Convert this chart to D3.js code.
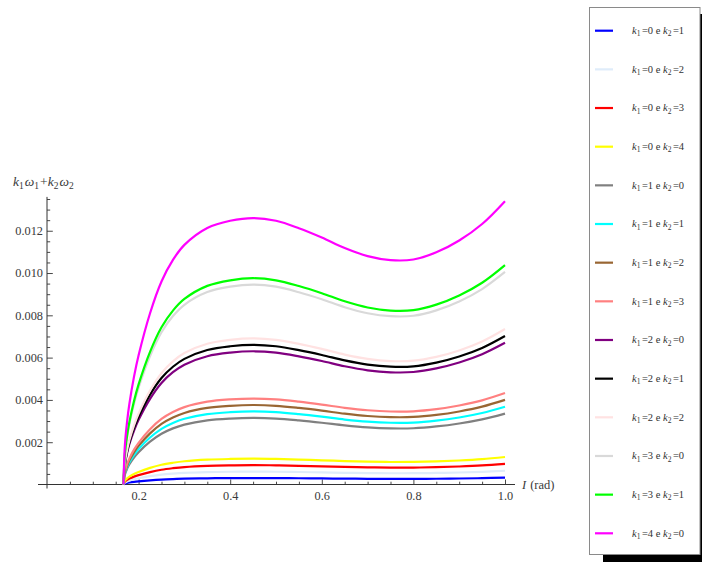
<!DOCTYPE html>
<html>
<head>
<meta charset="utf-8">
<script src="https://cdn.jsdelivr.net/npm/d3@7"></script>
<style>
  body { margin: 0; background: #fff; }
  svg { display: block; font-family: "Liberation Serif", "DejaVu Serif", serif; }
</style>
</head>
<body>
<svg id="chart" width="702" height="562"></svg>
<script>
// sample positions along I (rad)
const xValues = [0.167, 0.17, 0.175, 0.18, 0.19, 0.2, 0.225, 0.25, 0.275, 0.3, 0.35, 0.4, 0.45, 0.5, 0.55, 0.6, 0.65, 0.7, 0.75, 0.8, 0.85, 0.9, 0.95, 1.0];

// k1*w1 + k2*w2
const k0k1 = [0, 0.000045, 0.000073, 0.000093, 0.000124, 0.000148, 0.000196, 0.000233, 0.000257, 0.000275, 0.000294, 0.000302, 0.000305, 0.000302, 0.000295, 0.000286, 0.000277, 0.00027, 0.000266, 0.000267, 0.000273, 0.000284, 0.0003, 0.000325];
const k0k2 = [0, 0.00009, 0.000146, 0.000186, 0.000248, 0.000296, 0.000392, 0.000466, 0.000514, 0.00055, 0.000588, 0.000604, 0.00061, 0.000604, 0.00059, 0.000572, 0.000554, 0.00054, 0.000532, 0.000534, 0.000546, 0.000568, 0.0006, 0.00065];
const k0k3 = [0, 0.000135, 0.000219, 0.000279, 0.000372, 0.000444, 0.000588, 0.000699, 0.000771, 0.000825, 0.000882, 0.000906, 0.000915, 0.000906, 0.000885, 0.000858, 0.000831, 0.00081, 0.000798, 0.000801, 0.000819, 0.000852, 0.0009, 0.000975];
const k0k4 = [0, 0.00018, 0.000292, 0.000372, 0.000496, 0.000592, 0.000784, 0.000932, 0.001028, 0.0011, 0.001176, 0.001208, 0.00122, 0.001208, 0.00118, 0.001144, 0.001108, 0.00108, 0.001064, 0.001068, 0.001092, 0.001136, 0.0012, 0.0013];
const k1k0 = [0, 0.00046, 0.00075, 0.000958, 0.001275, 0.001528, 0.002025, 0.0024, 0.002655, 0.002833, 0.003033, 0.003118, 0.00315, 0.003118, 0.00303, 0.00292, 0.002795, 0.0027, 0.002653, 0.00266, 0.002745, 0.002885, 0.00308, 0.00335];
const k1k1 = [0, 0.000505, 0.000823, 0.001051, 0.001399, 0.001676, 0.002221, 0.002633, 0.002912, 0.003108, 0.003327, 0.00342, 0.003455, 0.00342, 0.003325, 0.003206, 0.003072, 0.00297, 0.002919, 0.002927, 0.003018, 0.003169, 0.00338, 0.003675];
const k1k2 = [0, 0.00055, 0.000896, 0.001144, 0.001523, 0.001824, 0.002417, 0.002866, 0.003169, 0.003383, 0.003621, 0.003722, 0.00376, 0.003722, 0.00362, 0.003492, 0.003349, 0.00324, 0.003185, 0.003194, 0.003291, 0.003453, 0.00368, 0.004];
const k1k3 = [0, 0.000595, 0.000969, 0.001237, 0.001647, 0.001972, 0.002613, 0.003099, 0.003426, 0.003658, 0.003915, 0.004024, 0.004065, 0.004024, 0.003915, 0.003778, 0.003626, 0.00351, 0.003451, 0.003461, 0.003564, 0.003737, 0.00398, 0.004325];
const k2k0 = [0, 0.00092, 0.0015, 0.001916, 0.00255, 0.003056, 0.00405, 0.0048, 0.00531, 0.005666, 0.006066, 0.006236, 0.0063, 0.006236, 0.00606, 0.00584, 0.00559, 0.0054, 0.005306, 0.00532, 0.00549, 0.00577, 0.00616, 0.0067];
const k2k1 = [0, 0.000965, 0.001573, 0.002009, 0.002674, 0.003204, 0.004246, 0.005033, 0.005567, 0.005941, 0.00636, 0.006538, 0.006605, 0.006538, 0.006355, 0.006126, 0.005867, 0.00567, 0.005572, 0.005587, 0.005763, 0.006054, 0.00646, 0.007025];
const k2k2 = [0, 0.00101, 0.001646, 0.002102, 0.002798, 0.003352, 0.004442, 0.005266, 0.005824, 0.006216, 0.006654, 0.00684, 0.00691, 0.00684, 0.00665, 0.006412, 0.006144, 0.00594, 0.005838, 0.005854, 0.006036, 0.006338, 0.00676, 0.00735];
const k3k0 = [0, 0.00138, 0.00225, 0.002874, 0.003825, 0.004584, 0.006075, 0.0072, 0.007965, 0.008499, 0.009099, 0.009354, 0.00945, 0.009354, 0.00909, 0.00876, 0.008385, 0.0081, 0.007959, 0.00798, 0.008235, 0.008655, 0.00924, 0.01005];
const k3k1 = [0, 0.001425, 0.002323, 0.002967, 0.003949, 0.004732, 0.006271, 0.007433, 0.008222, 0.008774, 0.009393, 0.009656, 0.009755, 0.009656, 0.009385, 0.009046, 0.008662, 0.00837, 0.008225, 0.008247, 0.008508, 0.008939, 0.00954, 0.010375];
const k4k0 = [0, 0.00184, 0.003, 0.00383, 0.0051, 0.00611, 0.0081, 0.0096, 0.01062, 0.01133, 0.01213, 0.01247, 0.0126, 0.01247, 0.01212, 0.01168, 0.01118, 0.0108, 0.01061, 0.01064, 0.01098, 0.01154, 0.01232, 0.0134];

const k1List = [0, 0, 0, 0, 1, 1, 1, 1, 2, 2, 2, 3, 3, 4];
const k2List = [1, 2, 3, 4, 0, 1, 2, 3, 0, 1, 2, 0, 1, 0];
const seriesValues = [k0k1, k0k2, k0k3, k0k4, k1k0, k1k1, k1k2, k1k3, k2k0, k2k1, k2k2, k3k0, k3k1, k4k0];
const colors = ["#0000ff", "#dfecfa", "#ff0000", "#ffff00", "#808080", "#00ffff", "#996633",
                "#ff8080", "#800080", "#000000", "#ffe2e2", "#d9d9d9", "#00ff00", "#ff00ff"];

const xTicks = [0.2, 0.4, 0.6, 0.8, 1.0];
const yTicks = [0.002, 0.004, 0.006, 0.008, 0.010, 0.012];

const svg = d3.select("#chart");

const x = d3.scaleLinear().domain([0, 1]).range([47, 505]);
const y = d3.scaleLinear().domain([0, 0.0136]).range([484.5, 196.9]);

const axisColor = "#333";

// minor ticks
const xMinor = d3.range(1, 21).map((i) => i * 0.05).filter((v) => Math.abs(v * 5 - Math.round(v * 5)) > 1e-6);
const yMinor = d3.range(1, 28).map((i) => i * 0.0005).filter((v) => Math.abs(v / 0.002 - Math.round(v / 0.002)) > 1e-6);

const gx = svg.append("g").attr("transform", `translate(0,${y(0)})`);
gx.call(d3.axisBottom(x).tickValues(xMinor).tickSizeInner(-2.8).tickSizeOuter(0).tickFormat(""));
gx.call((g) => g.select(".domain").remove());
const gxMajor = svg.append("g").attr("transform", `translate(0,${y(0)})`);
gxMajor.call(d3.axisBottom(x).tickValues(xTicks).tickSizeInner(-5).tickSizeOuter(0).tickPadding(7).tickFormat(d3.format(".1f")));
gxMajor.call((g) => g.select(".domain").remove());

const gy = svg.append("g").attr("transform", `translate(${x(0)},0)`);
gy.call(d3.axisLeft(y).tickValues(yMinor).tickSizeInner(-3.2).tickSizeOuter(0).tickFormat(""));
gy.call((g) => g.select(".domain").remove());
const gyMajor = svg.append("g").attr("transform", `translate(${x(0)},0)`);
gyMajor.call(d3.axisLeft(y).tickValues(yTicks).tickSizeInner(-5.8).tickSizeOuter(0).tickPadding(4).tickFormat(d3.format(".3f")));
gyMajor.call((g) => g.select(".domain").remove());

svg.selectAll(".tick line").attr("stroke", axisColor).attr("stroke-width", 0.9);
svg.selectAll(".tick text").attr("fill", "#3a3a3a").style("font-family", "Liberation Serif").style("font-size", "12.3px");

// axis lines
svg.append("line").attr("x1", 38).attr("x2", 515).attr("y1", y(0)).attr("y2", y(0))
  .attr("stroke", axisColor).attr("stroke-width", 1);
svg.append("line").attr("x1", x(0)).attr("x2", x(0)).attr("y1", y(0.0136)).attr("y2", y(0) + 4)
  .attr("stroke", axisColor).attr("stroke-width", 1);

// axis labels
const yLab = svg.append("text").attr("x", 13).attr("y", 186).attr("fill", "#3a3a3a").style("font-size", "13.5px");
yLab.append("tspan").attr("font-style", "italic").text("k");
yLab.append("tspan").attr("font-size", "9.5px").attr("dy", 3).text("1");
yLab.append("tspan").attr("font-style", "italic").attr("dy", -3).attr("dx", 1).text("ω");
yLab.append("tspan").attr("font-size", "9.5px").attr("dy", 3).text("1");
yLab.append("tspan").attr("dy", -3).attr("dx", 1).text("+");
yLab.append("tspan").attr("font-style", "italic").text("k");
yLab.append("tspan").attr("font-size", "9.5px").attr("dy", 3).text("2");
yLab.append("tspan").attr("font-style", "italic").attr("dy", -3).attr("dx", 1).text("ω");
yLab.append("tspan").attr("font-size", "9.5px").attr("dy", 3).text("2");

const xLab = svg.append("text").attr("x", 522).attr("y", 489).attr("fill", "#3a3a3a").style("font-size", "12.5px");
xLab.append("tspan").attr("font-style", "italic").text("I");
xLab.append("tspan").attr("dx", 4).text("(rad)");

// curves
const line = d3.line()
  .x((d) => x(d[0]))
  .y((d) => y(d[1]))
  .curve(d3.curveCatmullRom.alpha(0.5));

seriesValues.forEach((vals, i) => {
  svg.append("path")
    .datum(xValues.map((xv, j) => [xv, vals[j]]))
    .attr("fill", "none")
    .attr("stroke", colors[i])
    .attr("stroke-width", 2.2)
    .attr("stroke-linejoin", "round")
    .attr("d", line);
});

// legend
svg.append("rect").attr("x", 603).attr("y", 14).attr("width", 120).attr("height", 560).attr("fill", "#000");
svg.append("rect").attr("x", 589.5).attr("y", 7.5).attr("width", 110.5).attr("height", 547)
  .attr("fill", "#fff").attr("stroke", "#8a8a8a").attr("stroke-width", 1);

const legendY = d3.scaleLinear().domain([0, 13]).range([30.7, 533.3]);

k1List.forEach((k1, i) => {
  const ly = legendY(i);
  svg.append("line").attr("x1", 595).attr("x2", 613).attr("y1", ly).attr("y2", ly)
    .attr("stroke", colors[i]).attr("stroke-width", 2.2);
  const t = svg.append("text").attr("x", 632).attr("y", ly + 3.2).attr("fill", "#333").style("font-size", "10.5px");
  t.append("tspan").attr("font-style", "italic").text("k");
  t.append("tspan").attr("font-size", "7.5px").attr("dy", 2.5).text("1");
  t.append("tspan").attr("dy", -2.5).attr("dx", 1.5).text("=" + k1 + " e ");
  t.append("tspan").attr("font-style", "italic").text("k");
  t.append("tspan").attr("font-size", "7.5px").attr("dy", 2.5).text("2");
  t.append("tspan").attr("dy", -2.5).attr("dx", 1.5).text("=" + k2List[i]);
});
</script>
</body>
</html>
